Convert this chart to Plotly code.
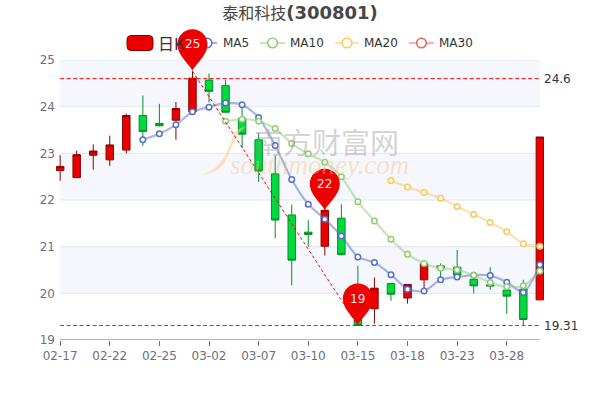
import plotly.graph_objects as go

dates = ["02-17","02-18","02-19","02-22","02-23","02-24","02-25","02-26","03-01","03-02",
         "03-03","03-04","03-07","03-08","03-09","03-10","03-11","03-14","03-15","03-16",
         "03-17","03-18","03-21","03-22","03-23","03-24","03-25","03-28","03-29","03-30"]
tick_labels = ["02-17","02-22","02-25","03-02","03-07","03-10","03-15","03-18","03-23","03-28"]
y_ticks = [19, 20, 21, 22, 23, 24, 25]

open_ = [22.63,22.48,22.96,22.86,23.07,23.81,23.64,23.71,23.89,24.57,24.45,23.75,23.29,22.56,21.68,
         21.31,21.01,21.61,19.95,19.67,20.21,19.90,20.29,20.59,20.56,20.30,20.18,20.07,20.09,19.86]
close = [22.72,22.97,23.05,23.18,23.81,23.47,23.59,23.96,24.61,24.33,23.88,23.41,22.62,21.57,20.71,
         21.26,21.78,20.83,19.31,20.11,19.98,20.19,20.63,20.54,20.39,20.16,20.16,19.94,19.44,23.35]
high  = [22.96,23.06,23.19,23.38,23.85,24.24,24.06,24.10,24.76,24.71,24.58,24.00,23.44,22.95,21.90,
         21.57,21.90,21.91,20.59,20.34,20.21,20.19,20.65,20.64,20.93,20.34,20.56,20.11,20.29,23.35]
low   = [22.41,22.48,22.65,22.73,23.00,23.16,23.58,23.29,23.89,24.09,23.88,23.11,22.39,21.18,20.17,
         21.00,20.81,20.81,19.31,19.35,19.84,19.78,20.07,20.34,20.34,20.00,20.08,19.56,19.32,19.86]

ma5 = [None]*5 + [23.29,23.42,23.61,23.89,23.99,24.08,24.04,23.77,23.17,22.44,21.91,21.59,21.23,
                  20.78,20.66,20.40,20.09,20.05,20.29,20.35,20.39,20.38,20.24,20.02,20.61]
ma10 = [None]*10 + [23.69,23.73,23.69,23.53,23.21,22.99,22.81,22.50,21.96,21.55,21.16,20.84,20.64,
                    20.54,20.50,20.39,20.23,20.14,20.16,20.48]
ma20 = [None]*20 + [22.42,22.28,22.16,22.04,21.86,21.69,21.52,21.32,21.06,21.01]
ma30 = [None]*29 + [20.48]

mark_max = 24.6
mark_min = 19.31
pins = [("25", "03-01", 24.76), ("22", "03-11", 21.77), ("19", "03-15", 19.31)]
trend_from = ("03-01", 24.76)
trend_to = ("03-15", 19.31)

W, H = 600, 400
L, R, T, B = 56, 56, 60, 60
Y_MIN, Y_MAX = 19, 25
C5, C10, C20, C30 = "#5470c6", "#91cc75", "#fac858", "#ee6666"
RED, RED_D, GRN, GRN_D = "#eb0000", "#8a0000", "#00da3c", "#008f28"
FONT = "DejaVu Sans"
CJK = "Noto Sans CJK SC"


def fx(px):
    return (px - L) / (W - L - R)


def fy(py):
    return 1 - (py - T) / (H - T - B)


fig = go.Figure()
fig.add_trace(go.Candlestick(
    x=dates, open=open_, high=high, low=low, close=close, name="日K", showlegend=False,
    whiskerwidth=0,
    increasing=dict(line=dict(color=RED_D, width=1), fillcolor=RED),
    decreasing=dict(line=dict(color=GRN_D, width=1), fillcolor=GRN),
))


def rgba(hexc, a):
    return f"rgba({int(hexc[1:3],16)},{int(hexc[3:5],16)},{int(hexc[5:7],16)},{a})"


for name, vals, col in [("MA30", ma30, C30), ("MA5", ma5, C5), ("MA10", ma10, C10), ("MA20", ma20, C20)]:
    fig.add_trace(go.Scatter(
        x=dates, y=vals, name=name, mode="lines+markers", showlegend=False,
        line=dict(color=rgba(col, 0.5), width=2.2, shape="spline", smoothing=0.7),
        marker=dict(size=5.5, color="white", line=dict(color=col, width=1.5)),
    ))

shapes = []
for lo, hi in [(24, 25), (22, 23), (20, 21)]:
    shapes.append(dict(type="rect", xref="x", yref="y", x0=0, x1=len(dates)-1, y0=lo, y1=hi,
                       fillcolor="rgba(240,243,250,0.65)", line_width=0, layer="below"))
for v in y_ticks[1:]:
    shapes.append(dict(type="line", xref="x", yref="y", x0=0, x1=len(dates)-1, y0=v, y1=v,
                       line=dict(color="#e0e6f1", width=1), layer="below"))
shapes.append(dict(type="line", xref="x", yref="y", x0=0, x1=len(dates)-1, y0=19, y1=19,
                   line=dict(color="#6e7079", width=1), layer="below"))


# free-drawn decorations, placed in pixels of the page and not clipped
def rel_path(cmds):
    out = []
    for c, pts in cmds:
        out.append(c + " ".join(f"{x:.1f},{-y:.1f}" for x, y in pts))
    return " ".join(out) + " Z"


def page_path(cmds, **kw):
    return dict(type="path", xref="paper", yref="paper", xsizemode="pixel", ysizemode="pixel",
                xanchor=fx(0), yanchor=fy(0), path=rel_path(cmds), layer="above", **kw)


shapes.append(page_path([("M", [(200, 175)]),
                         ("C", [(222, 170), (228, 150), (232, 138)]),
                         ("C", [(235, 130), (241, 127), (246, 127)]),
                         ("C", [(236, 132), (233, 146), (227, 158)]),
                         ("C", [(222, 170), (210, 175), (200, 175)])],
                        fillcolor="rgba(247,205,150,0.55)", line_width=0))

shapes.append(dict(type="line", xref="x", yref="y", x0=0, x1=len(dates)-1, y0=mark_max, y1=mark_max,
                   line=dict(color="#ff0000", width=1, dash="4px,2.5px"), layer="above"))
shapes.append(dict(type="line", xref="x", yref="y", x0=0, x1=len(dates)-1, y0=mark_min, y1=mark_min,
                   line=dict(color="#c23531", width=1, dash="4px,2.5px"), layer="above"))
shapes.append(dict(type="line", xref="x", yref="y", x0=trend_from[0], x1=trend_to[0], y0=trend_from[1], y1=trend_to[1],
                   line=dict(color="#ff0000", width=1, dash="3px,2.5px"), layer="above"))

shapes.append(page_path([("M", [(131, 35.5)]), ("L", [(149, 35.5)]), ("Q", [(153, 35.5), (153, 39.5)]),
                         ("L", [(153, 46.5)]), ("Q", [(153, 50.5), (149, 50.5)]), ("L", [(131, 50.5)]),
                         ("Q", [(127, 50.5), (127, 46.5)]), ("L", [(127, 39.5)]), ("Q", [(127, 35.5), (131, 35.5)])],
                        fillcolor=RED, line=dict(color=RED_D, width=1)))
for x0, x1, col in [(195, 217, C5), (260, 285, C10), (335, 359, C20), (409, 434, C30)]:
    cx = (x0 + x1) / 2 if col != C5 else 207
    shapes.append(dict(type="line", xref="paper", yref="paper", x0=fx(x0), x1=fx(x1), y0=fy(43), y1=fy(43),
                       line=dict(color=rgba(col, 0.5), width=2), layer="above"))
    shapes.append(dict(type="circle", xref="paper", yref="paper",
                       x0=fx(cx - 4.8), x1=fx(cx + 4.8), y0=fy(43 + 4.8), y1=fy(43 - 4.8),
                       fillcolor="white", line=dict(color=col, width=1.6), layer="above"))

PIN = "M0,0 C-1.5,6 -15,15 -15,27 C-15,35.3 -8.3,42 0,42 C8.3,42 15,35.3 15,27 C15,15 1.5,6 0,0 Z"
for txt, d, v in pins:
    shapes.append(dict(type="path", xref="x", yref="paper", xsizemode="pixel", ysizemode="pixel",
                       xanchor=d, yanchor=(v - Y_MIN) / (Y_MAX - Y_MIN), path=PIN,
                       fillcolor="#ee0000", line_width=0, layer="above"))

ann = []
for txt, d, v in pins:
    ann.append(dict(x=d, y=v, xref="x", yref="y", text=txt, showarrow=False, yshift=27,
                    xanchor="center", yanchor="middle",
                    font=dict(family=FONT, size=12, color="#ffe9e9")))
for val in (mark_max, mark_min):
    ann.append(dict(x=len(dates)-1, y=val, xref="x", yref="y", text=str(val), showarrow=False,
                    xanchor="left", yanchor="middle", xshift=2, font=dict(family=FONT, size=12, color="#333")))
for txt, px, fam, size in [("日K", 158, CJK, 16), ("MA5", 222.5, FONT, 12), ("MA10", 290, FONT, 12),
                           ("MA20", 364, FONT, 12), ("MA30", 439, FONT, 12)]:
    ann.append(dict(x=fx(px), y=fy(42.5), xref="paper", yref="paper", text=txt, showarrow=False,
                    xanchor="left", yanchor="middle", xshift=-2, font=dict(family=fam, size=size, color="#333")))
ann.append(dict(x=fx(326), y=fy(141), xref="paper", yref="paper", text="南方财富网", showarrow=False,
                xanchor="center", yanchor="middle",
                font=dict(family=CJK, size=29, color="rgba(150,150,150,0.42)")))
ann.append(dict(x=fx(319), y=fy(165), xref="paper", yref="paper", text="<i>southmoney.com</i>", showarrow=False,
                xanchor="center", yanchor="middle",
                font=dict(family="Liberation Serif", size=27, color="rgba(245,195,135,0.45)")))

fig.update_layout(
    width=W, height=H, margin=dict(l=L, r=R, t=T, b=B),
    plot_bgcolor="white", paper_bgcolor="white", showlegend=False,
    boxgap=0.55, boxgroupgap=0,
    title=dict(
        text='<span style="font-size:16px;font-weight:normal;font-family:\'Noto Sans CJK SC\'">泰和科技</span><b>(300801)</b>',
        x=0.5, xanchor="center", xref="container", y=1 - 13 / H, yref="container", yanchor="middle",
        font=dict(family=FONT, size=18, color="#464646")),
    xaxis=dict(type="category", range=[-0.25, 29.25], rangeslider=dict(visible=False),
               showgrid=False, showline=False, zeroline=False,
               tickmode="array", tickvals=tick_labels, ticktext=tick_labels,
               ticks="outside", ticklen=5, tickcolor="#6e7079", tickwidth=1,
               tickfont=dict(family=FONT, size=12, color="#6e7079")),
    yaxis=dict(range=[Y_MIN, Y_MAX], tickvals=y_ticks, showgrid=False, zeroline=False, showline=False,
               ticks="", tickfont=dict(family=FONT, size=12, color="#6e7079")),
    shapes=shapes, annotations=ann,
)

fig.write_html("out.html", config=dict(displayModeBar=False),
               post_script="document.body.style.margin='0';")
